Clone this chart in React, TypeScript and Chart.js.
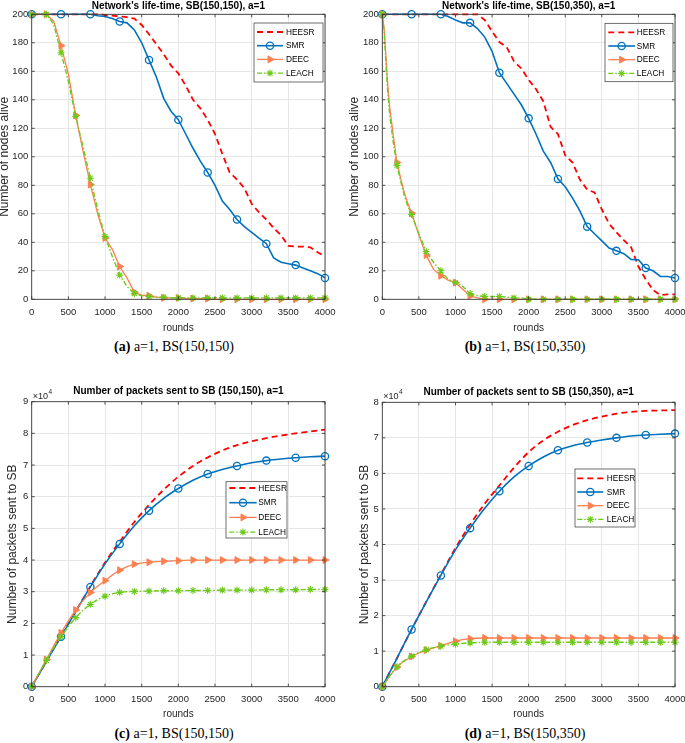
import React, { useEffect, useRef } from 'react';
import { Chart, registerables } from 'chart.js';

Chart.register(...registerables);

const SANS = '"Liberation Sans", Arial, Helvetica, sans-serif';
const SERIF = '"Liberation Serif", "Times New Roman", serif';
const INK = '#262626';

// ---------------- data ----------------
const seriesNames = ['HEESR', 'SMR', 'DEEC', 'LEACH'];
const roundsMin = 0;
const roundsMax = 4000;
const roundsStep = 500;

const rounds100 = [0, 100, 200, 300, 400, 500, 600, 700, 800, 900, 1000, 1100, 1200, 1300, 1400, 1500, 1600, 1700, 1800, 1900, 2000, 2100, 2200, 2300, 2400, 2500, 2600, 2700, 2800, 2900, 3000, 3100, 3200, 3300, 3400, 3500, 3600, 3700, 3800, 3900, 4000];
const rounds200 = [0, 200, 400, 600, 800, 1000, 1200, 1400, 1600, 1800, 2000, 2200, 2400, 2600, 2800, 3000, 3200, 3400, 3600, 3800, 4000];
const roundsEarly = [0, 25, 50, 75, 100, 150, 200, 250, 300, 350, 400, 500, 600, 700, 800, 900, 1000, 1100, 1200, 1300, 1400, 1500, 1600, 1700, 1800, 1900, 2000, 2100, 2200, 2300, 2400, 2500, 2600, 2700, 2800, 2900, 3000, 3100, 3200, 3300, 3400, 3500, 3600, 3700, 3800, 3900, 4000];

// (a) nodes alive, SB(150,150)
const heesrA = [200, 200, 200, 200, 200, 200, 200, 200, 200, 200, 199.5, 199, 198.5, 198, 197, 192.5, 186, 179, 172, 164, 158.5, 150, 140, 134, 126, 116, 102, 89, 84, 78, 67, 61, 56, 50, 45, 37.5, 37, 37, 36.5, 33, 30];
const smrA = [200, 200, 200, 200, 200, 200, 200, 200, 200, 199, 198.5, 197, 195, 194, 189, 180, 168, 156, 141, 132, 126, 116, 106, 97, 89, 80, 69, 63, 56, 51, 47, 43, 39, 29, 26, 25, 24, 22, 20, 18, 15];
const deecA = [200, 200, 200, 195, 178, 158, 129, 104, 80.5, 60, 43, 35, 23, 15, 5, 3, 2.5, 1.5, 1, 1, 1, 0.5, 0.5, 0.5, 0.5, 0, 0, 0, 0, 0, 0, 0, 0, 0, 0, 0, 0, 0, 0, 0, 0];
const leachA = [200, 200, 200, 193, 173, 153, 128.5, 107, 85, 63, 44, 30, 17, 9, 4, 2.5, 2, 1.5, 1.5, 1, 1, 1, 1, 1, 1, 1, 1, 1, 1, 1, 1, 1, 1, 1, 1, 1, 1, 1, 1, 1, 1];

// (b) nodes alive, SB(150,350)
const heesrB = [200, 200, 200, 200, 200, 200, 200, 200, 200, 200, 200, 200, 200, 200, 196, 188, 180.5, 177, 167, 162, 154, 147.5, 139, 121, 116, 101, 96, 84, 77, 75, 63, 53, 47, 41.5, 36.5, 23, 14, 6.5, 3, 3.5, 3.5];
const smrB = [200, 200, 200, 200, 200, 200, 200, 200, 200, 198.5, 196, 194, 194, 190, 184, 174, 159, 151.5, 144, 136.5, 127, 116, 104, 96, 84.5, 79, 71, 62, 51, 46, 41, 36, 34, 32, 28, 27.7, 22, 20, 16, 16, 15];
const deecB = [200, 190, 170, 150, 135, 115, 96, 85, 75, 67, 60.5, 45, 31, 21, 16.5, 13.5, 11.7, 7, 2.3, 1, 0, 0, 0, 0, 0, 0, 0, 0, 0, 0, 0, 0, 0, 0, 0, 0, 0, 0, 0, 0, 0, 0, 0, 0, 0, 0, 0];
const leachB = [200, 188, 165, 145, 130, 110, 94, 83, 73, 65, 59.5, 46, 33.5, 26, 20, 14, 11.7, 9, 4, 2.5, 2, 2, 2, 1.5, 1, 1, 0, 0, 0, 0, 0, 0, 0, 0, 0, 0, 0, 0, 0, 0, 0, 0, 0, 0, 0, 0, 0];

// (c) packets sent to SB (x10^4), SB(150,150)
const heesrC = [0, 0.8, 1.6, 2.38, 3.17, 3.92, 4.58, 5.2, 5.74, 6.22, 6.63, 6.97, 7.24, 7.46, 7.63, 7.75, 7.85, 7.93, 8.0, 8.06, 8.12];
const smrC = [0, 0.8, 1.58, 2.37, 3.15, 3.88, 4.51, 5.08, 5.56, 5.95, 6.26, 6.52, 6.72, 6.86, 6.97, 7.07, 7.14, 7.19, 7.23, 7.26, 7.28];
const deecC = [0, 0.86, 1.7, 2.42, 2.97, 3.35, 3.68, 3.87, 3.93, 3.96, 3.98, 4, 4, 4, 4, 4, 4, 4, 4, 4, 4];
const leachC = [0, 0.83, 1.58, 2.18, 2.6, 2.86, 2.98, 3.01, 3.02, 3.03, 3.03, 3.04, 3.04, 3.05, 3.05, 3.05, 3.06, 3.06, 3.06, 3.07, 3.07];

// (d) packets sent to SB (x10^4), SB(150,350)
const heesrD = [0, 0.8, 1.61, 2.39, 3.15, 3.9, 4.56, 5.15, 5.66, 6.16, 6.6, 6.93, 7.17, 7.36, 7.5, 7.6, 7.68, 7.73, 7.76, 7.77, 7.78];
const smrD = [0, 0.8, 1.61, 2.38, 3.13, 3.85, 4.46, 5.02, 5.5, 5.9, 6.21, 6.46, 6.65, 6.78, 6.87, 6.94, 7.0, 7.05, 7.08, 7.1, 7.12];
const deecD = [0, 0.55, 0.85, 1.03, 1.15, 1.28, 1.35, 1.37, 1.37, 1.37, 1.37, 1.37, 1.37, 1.37, 1.37, 1.37, 1.37, 1.37, 1.37, 1.37, 1.37];
const leachD = [0, 0.56, 0.86, 1.04, 1.14, 1.2, 1.23, 1.25, 1.25, 1.25, 1.25, 1.25, 1.25, 1.25, 1.25, 1.25, 1.25, 1.25, 1.25, 1.25, 1.25];

// ---------------- styles ----------------
type SeriesStyle = {
  color: string; width: number; dash: number[]; every: number; pointStyle: string;
  radius: number; rotation: number; fill: string; pointBorder: number; order: number;
};
const seriesStyle: SeriesStyle[] = [
  { color: '#ff0000', width: 1.8, dash: [6, 4], every: 0, pointStyle: 'circle', radius: 0, rotation: 0, fill: 'rgba(0,0,0,0)', pointBorder: 1, order: 3 },
  { color: '#0072bd', width: 1.6, dash: [], every: 400, pointStyle: 'circle', radius: 3.6, rotation: 0, fill: 'rgba(0,0,0,0)', pointBorder: 1.3, order: 2 },
  { color: '#ff7f50', width: 1.3, dash: [], every: 200, pointStyle: 'triangle', radius: 4, rotation: 90, fill: '#ff7f50', pointBorder: 1, order: 1 },
  { color: '#6ccb1a', width: 1.4, dash: [5, 2, 1.5, 2], every: 200, pointStyle: 'star', radius: 3.5, rotation: 0, fill: '#6ccb1a', pointBorder: 1.1, order: 0 },
];

type LegendSpec = { x: number; y: number; w: number; h: number; row0: number; gap: number; sx: number; sl: number; tx: number };
type Panel = {
  left: number; top: number; width: number; height: number;
  title: string; titlePadTop: number; titlePadBottom: number;
  yTitle: string; yTitlePad: number;
  yMax: number; yStep: number;
  yAxisWidth: number; xAxisHeight: number; padRight: number; xTickPad: number;
  xs: number[][]; ys: number[][];
  smooth: boolean; exponent: boolean;
  legend: LegendSpec;
  caption: { tag: string; text: string; cx: number; cy: number };
};

const panels: Panel[] = [
  {
    left: 0, top: 0, width: 340, height: 336,
    title: "Network's life-time, SB(150,150), a=1", titlePadTop: 0, titlePadBottom: 2.3,
    yTitle: 'Number of nodes alive', yTitlePad: -1.5,
    yMax: 200, yStep: 20, yAxisWidth: 31.7, xAxisHeight: 36.7, padRight: 15, xTickPad: 7,
    xs: [rounds100, rounds100, rounds100, rounds100], ys: [heesrA, smrA, deecA, leachA],
    smooth: false, exponent: false,
    legend: { x: 254, y: 23, w: 69, h: 59, row0: 9, gap: 13.7, sx: 3, sl: 26, tx: 32 },
    caption: { tag: '(a)', text: 'a=1, BS(150,150)', cx: 174, cy: 347 },
  },
  {
    left: 340, top: 0, width: 345, height: 336,
    title: "Network's life-time, SB(150,350), a=1", titlePadTop: 0, titlePadBottom: 2.3,
    yTitle: 'Number of nodes alive', yTitlePad: 9,
    yMax: 200, yStep: 20, yAxisWidth: 42.3, xAxisHeight: 36.7, padRight: 10, xTickPad: 7,
    xs: [rounds100, rounds100, roundsEarly, roundsEarly], ys: [heesrB, smrB, deecB, leachB],
    smooth: false, exponent: false,
    legend: { x: 265, y: 23.3, w: 68, h: 58.4, row0: 9, gap: 13.7, sx: 3.3, sl: 26.7, tx: 31.7 },
    caption: { tag: '(b)', text: 'a=1, BS(150,350)', cx: 525, cy: 347 },
  },
  {
    left: 0, top: 385, width: 340, height: 337,
    title: 'Number of packets sent to SB (150,150), a=1', titlePadTop: 0.7, titlePadBottom: 4,
    yTitle: 'Number of packets sent to SB', yTitlePad: 7,
    yMax: 9, yStep: 1, yAxisWidth: 31.7, xAxisHeight: 35.3, padRight: 15, xTickPad: 6.6,
    xs: [rounds200, rounds200, rounds200, rounds200], ys: [heesrC, smrC, deecC, leachC],
    smooth: true, exponent: true,
    legend: { x: 226, y: 96.7, w: 61, h: 56.3, row0: 6.3, gap: 14.7, sx: 3.3, sl: 27.4, tx: 32.3 },
    caption: { tag: '(c)', text: 'a=1, BS(150,150)', cx: 174, cy: 734 },
  },
  {
    left: 340, top: 385, width: 345, height: 337,
    title: 'Number of packets sent to SB (150,350), a=1', titlePadTop: 1.7, titlePadBottom: 3.6,
    yTitle: 'Number of packets sent to SB', yTitlePad: 19,
    yMax: 8, yStep: 1, yAxisWidth: 42.3, xAxisHeight: 35.3, padRight: 10, xTickPad: 6.6,
    xs: [rounds200, rounds200, rounds200, rounds200], ys: [heesrD, smrD, deecD, leachD],
    smooth: true, exponent: true,
    legend: { x: 235, y: 84, w: 60, h: 58, row0: 9.3, gap: 13.7, sx: 2.3, sl: 26, tx: 31.7 },
    caption: { tag: '(d)', text: 'a=1, BS(150,350)', cx: 525, cy: 734 },
  },
];

function drawMarker(ctx: CanvasRenderingContext2D, st: SeriesStyle, x: number, y: number) {
  if (st.every === 0) return;
  const r = st.radius;
  ctx.save();
  ctx.setLineDash([]);
  ctx.strokeStyle = st.color;
  ctx.fillStyle = st.fill;
  ctx.lineWidth = st.pointBorder;
  ctx.beginPath();
  if (st.pointStyle === 'circle') {
    ctx.arc(x, y, r, 0, Math.PI * 2);
    ctx.stroke();
  } else if (st.pointStyle === 'triangle') {
    ctx.moveTo(x + r, y);
    ctx.lineTo(x - r / 2, y - r * 0.866);
    ctx.lineTo(x - r / 2, y + r * 0.866);
    ctx.closePath();
    ctx.fill();
    ctx.stroke();
  } else {
    const d = r * 0.7071;
    ctx.moveTo(x - r, y); ctx.lineTo(x + r, y);
    ctx.moveTo(x, y - r); ctx.lineTo(x, y + r);
    ctx.moveTo(x - d, y - d); ctx.lineTo(x + d, y + d);
    ctx.moveTo(x - d, y + d); ctx.lineTo(x + d, y - d);
    ctx.stroke();
  }
  ctx.restore();
}

function PanelChart({ p }: { p: Panel }) {
  const ref = useRef<HTMLCanvasElement>(null);
  useEffect(() => {
    const canvas = ref.current;
    if (!canvas) return;
    const datasets = p.ys.map((vals, i) => {
      const st = seriesStyle[i];
      const xs = p.xs[i];
      return {
        label: seriesNames[i],
        data: xs.map((x, j) => ({ x, y: vals[j] })),
        borderColor: st.color,
        backgroundColor: st.fill,
        borderWidth: st.width,
        borderDash: st.dash,
        pointStyle: st.pointStyle,
        pointRotation: st.rotation,
        pointRadius: (c: any) => (st.every > 0 && c.raw && c.raw.x % st.every === 0 ? st.radius : 0),
        pointHoverRadius: 0,
        pointBorderColor: st.color,
        pointBackgroundColor: st.fill,
        pointBorderWidth: st.pointBorder,
        tension: p.smooth ? 0.4 : 0,
        cubicInterpolationMode: p.smooth ? 'monotone' : 'default',
        order: st.order,
        clip: 8,
        fill: false,
      };
    });

    const overlay = {
      id: 'matlabLook',
      afterDraw(chart: any) {
        const { ctx, chartArea: ca } = chart;
        const xs = chart.scales.x;
        const ys = chart.scales.y;
        ctx.save();
        // inward tick marks
        ctx.strokeStyle = INK;
        ctx.lineWidth = 0.8;
        ctx.beginPath();
        for (let v = roundsMin; v <= roundsMax; v += roundsStep) {
          const px = xs.getPixelForValue(v);
          ctx.moveTo(px, ca.bottom); ctx.lineTo(px, ca.bottom - 3);
          ctx.moveTo(px, ca.top); ctx.lineTo(px, ca.top + 3);
        }
        for (let v = 0; v <= p.yMax; v += p.yStep) {
          const py = ys.getPixelForValue(v);
          ctx.moveTo(ca.left, py); ctx.lineTo(ca.left + 3, py);
          ctx.moveTo(ca.right, py); ctx.lineTo(ca.right - 3, py);
        }
        ctx.stroke();
        // axes box
        ctx.strokeStyle = '#3a3a3a';
        ctx.lineWidth = 0.9;
        ctx.strokeRect(ca.left, ca.top, ca.right - ca.left, ca.bottom - ca.top);

        // exponent label
        if (p.exponent) {
          ctx.fillStyle = INK;
          ctx.textBaseline = 'alphabetic';
          ctx.textAlign = 'left';
          ctx.font = `9px ${SANS}`;
          ctx.fillText('\u00d710', ca.left + 1, ca.top - 3);
          const w = ctx.measureText('\u00d710').width;
          ctx.font = `6.5px ${SANS}`;
          ctx.fillText('4', ca.left + 1 + w + 0.5, ca.top - 8);
        }

        // legend
        const L = p.legend;
        ctx.fillStyle = '#ffffff';
        ctx.fillRect(L.x, L.y, L.w, L.h);
        ctx.strokeStyle = '#333333';
        ctx.lineWidth = 0.7;
        ctx.strokeRect(L.x, L.y, L.w, L.h);
        ctx.font = `8.3px ${SANS}`;
        ctx.textBaseline = 'middle';
        ctx.textAlign = 'left';
        seriesNames.forEach((name, i) => {
          const st = seriesStyle[i];
          const y = L.y + L.row0 + i * L.gap;
          ctx.save();
          ctx.strokeStyle = st.color;
          ctx.lineWidth = st.width;
          ctx.setLineDash(st.dash);
          ctx.beginPath();
          ctx.moveTo(L.x + L.sx, y);
          ctx.lineTo(L.x + L.sx + L.sl, y);
          ctx.stroke();
          ctx.restore();
          drawMarker(ctx, st, L.x + L.sx + L.sl / 2, y);
          ctx.fillStyle = '#000000';
          ctx.fillText(name, L.x + L.tx, y + 0.5);
        });
        ctx.restore();
      },
    };

    const chart = new Chart(canvas, {
      type: 'line',
      data: { datasets: datasets as any },
      plugins: [overlay],
      options: {
        animation: false,
        responsive: false,
        maintainAspectRatio: false,
        devicePixelRatio: 1,
        events: [],
        layout: { autoPadding: false, padding: { left: 0, right: p.padRight, top: 0, bottom: 0 } },
        plugins: {
          legend: { display: false },
          tooltip: { enabled: false },
          title: {
            display: true,
            text: p.title,
            fullSize: false,
            color: '#000000',
            font: { family: SANS, size: 10, weight: 'bold', lineHeight: 1.2 },
            padding: { top: p.titlePadTop, bottom: p.titlePadBottom },
          },
        },
        scales: {
          x: {
            type: 'linear',
            min: roundsMin,
            max: roundsMax,
            ticks: {
              stepSize: roundsStep,
              autoSkip: false,
              maxRotation: 0,
              padding: p.xTickPad,
              color: INK,
              font: { family: SANS, size: 9.5, lineHeight: 1.2 },
              callback: (v: any) => String(v),
            },
            grid: { color: '#e6e6e6', lineWidth: 1, drawTicks: false },
            border: { display: false },
            title: {
              display: true,
              text: 'rounds',
              color: INK,
              font: { family: SANS, size: 10, lineHeight: 1.2 },
              padding: { top: 0, bottom: 2 },
            },
            afterFit: (s: any) => { s.height = p.xAxisHeight; s.paddingLeft = 0; s.paddingRight = 0; },
          },
          y: {
            type: 'linear',
            min: 0,
            max: p.yMax,
            ticks: {
              stepSize: p.yStep,
              autoSkip: false,
              padding: 3.5,
              color: INK,
              font: { family: SANS, size: 9.5, lineHeight: 1.2 },
              callback: (v: any) => String(v),
            },
            grid: { color: '#e6e6e6', lineWidth: 1, drawTicks: false },
            border: { display: false },
            title: {
              display: true,
              text: p.yTitle,
              color: INK,
              font: { family: SANS, size: 12, lineHeight: 1 },
              padding: { top: p.yTitlePad, bottom: 0 },
            },
            afterFit: (s: any) => { s.width = p.yAxisWidth; s.paddingTop = 0; s.paddingBottom = 0; },
          },
        },
      } as any,
    });
    return () => chart.destroy();
  }, [p]);

  return (
    <canvas
      ref={ref}
      width={p.width}
      height={p.height}
      style={{ position: 'absolute', left: p.left, top: p.top, width: p.width, height: p.height }}
    />
  );
}

export default function App() {
  return (
    <div style={{ position: 'absolute', left: 0, top: 0, width: 685, height: 743, background: '#ffffff', overflow: 'hidden' }}>
      {panels.map((p, i) => (
        <PanelChart key={'p' + i} p={p} />
      ))}
      {panels.map((p, i) => (
        <div
          key={'c' + i}
          style={{
            position: 'absolute',
            left: p.caption.cx,
            top: p.caption.cy,
            transform: 'translate(-50%, -50%)',
            font: `14px ${SERIF}`,
            whiteSpace: 'nowrap',
            color: '#000000',
            lineHeight: 1,
          }}
        >
          <b>{p.caption.tag}</b> {p.caption.text}
        </div>
      ))}
    </div>
  );
}
